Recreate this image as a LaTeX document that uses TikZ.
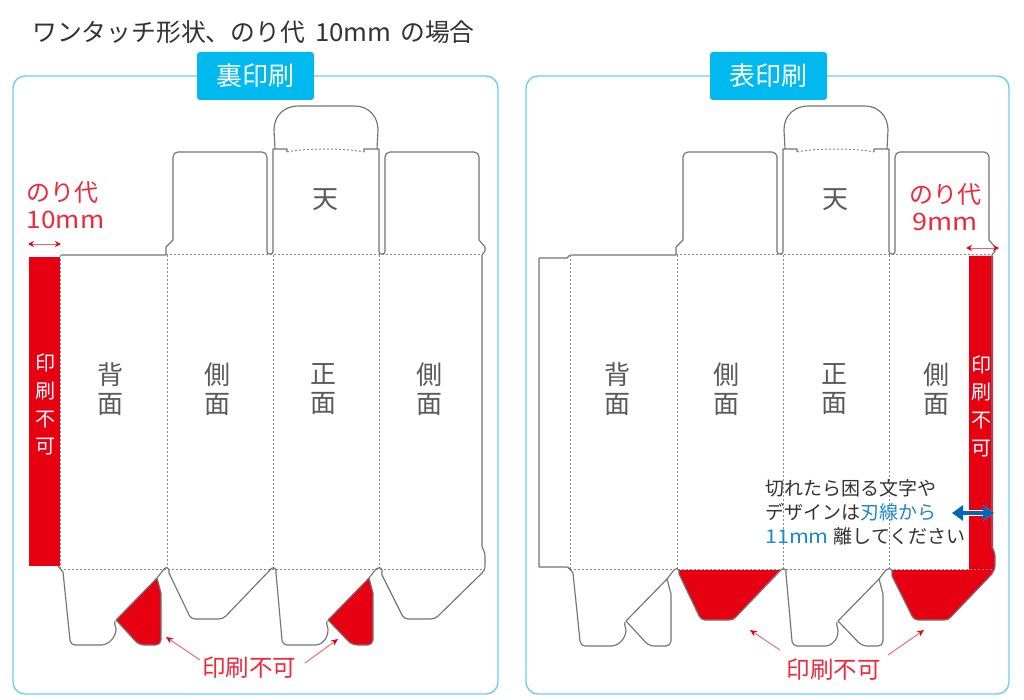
\documentclass[tikz,border=0pt]{standalone}
\usepackage{fontspec}
\setmainfont{Noto Sans CJK JP}
\usetikzlibrary{arrows.meta}
\definecolor{brand}{HTML}{00B9EF}
\definecolor{framec}{HTML}{6DCFF6}
\definecolor{nored}{HTML}{E60012}
\definecolor{txtred}{HTML}{F0283C}
\definecolor{pinkl}{HTML}{F2606E}
\definecolor{cutc}{HTML}{747474}
\definecolor{foldc}{HTML}{8A8A8A}
\definecolor{panelt}{HTML}{5A5A5A}
\definecolor{bluet}{HTML}{1E88CC}
\definecolor{bluea}{HTML}{0068B7}
\definecolor{bodyt}{HTML}{333333}
\newcommand{\wide}[2]{{\addfontfeature{FakeStretch=#1}#2}}
\tikzset{
  frame/.style={draw=framec,line width=1.4pt,rounded corners=12pt,fill=white},
  badge/.style={fill=brand,rounded corners=3pt,minimum width=117pt,minimum height=48pt,inner sep=0pt,text=white,font=\fontsize{26}{26}\selectfont},
  cut/.style={draw=cutc,line width=1.15pt,line join=round},
  fold/.style={draw=foldc,line width=1pt,dash pattern=on 2pt off 2pt},
  redzone/.style={fill=nored,draw=none},
  panel/.style={text=panelt,align=center,inner sep=0pt,font=\fontsize{26}{29}\selectfont},
  nope/.style={text=white,align=center,inner sep=0pt,font=\fontsize{20}{27.7}\selectfont},
  redlab/.style={text=txtred,align=center,inner sep=0pt,font=\fontsize{24}{27}\selectfont},
  callout/.style={text=txtred,inner sep=0pt,font=\fontsize{23.5}{26}\selectfont},
  redarrow/.style={draw=pinkl,line width=.9pt,-{Stealth[length=7pt,width=6pt,color=nored]}},
  dimarrow/.style={draw=pinkl,line width=.9pt,{Stealth[length=6pt,width=6pt,color=nored]}-{Stealth[length=6pt,width=6pt,color=nored]}},
}
\newcommand{\dieupper}{%
  \draw[cut] (61,255) -- (166,255) -- (166,247) -- (173,240) [rounded corners=5pt] -- (173,152) -- (267,152) [rounded corners=2.5pt] -- (267,254) -- (273,254) [sharp corners] -- (273,149) -- (287,149) -- (287,152);
  \draw[cut] (364,152) -- (364,149) -- (379,149) [rounded corners=2.5pt] -- (379,254) -- (385,254) [rounded corners=5pt] -- (385,152) -- (479,152) [sharp corners] -- (479,240) -- (485,247) -- (485,251) -- (482,255) -- (482,546) .. controls (483,550) and (485,552) .. (485,556) -- (485,565) .. controls (485,569) and (484,571) .. (482,573);
  \draw[cut] (275,149) -- (274,130) .. controls (274,115) and (285,106) .. (298,106) -- (355,106) .. controls (368,106) and (378,116) .. (378,130) -- (377,149);
  \draw[fold] (287,152) .. controls (305,148) and (345,148) .. (364,152);
  \draw[fold] (60,255) -- (60,569);
  \draw[fold] (167,255) -- (167,569);
  \draw[fold] (273,255) -- (273,569);
  \draw[fold] (379,255) -- (379,569);
  \draw[fold] (60,569) -- (482,569);
  \draw[fold] (166,255) -- (482,255);
}
\newcommand{\flapx}{435}
\newcommand{\dielower}{%
  \draw[cut] (58,566) -- (63,572) -- (70,640) [rounded corners=4pt] -- (71,645) -- (98,645) [sharp corners] .. controls (106,645) and (115,640) .. (116,630) .. controls (116,626) and (114,625) .. (115,621);
  \draw[cut] (157,578) -- (161,593) [rounded corners=5pt] -- (161,645) -- (139,645) [sharp corners] -- (116,620);
  \draw[cut] (116,620) -- (157,578) -- (164,569) .. controls (165,567) and (168,567) .. (169,570) -- (169,573) [rounded corners=4pt] -- (191,619) -- (223,619) [sharp corners] -- (270,570) .. controls (272,567) and (275,567) .. (276,570) -- (276,573) -- (282,640) [rounded corners=4pt] -- (283,645) -- (312,645) [sharp corners] .. controls (320,645) and (328,640) .. (328,630) .. controls (328,626) and (326,625) .. (327,621);
  \draw[cut] (369,578) -- (373,593) [rounded corners=5pt] -- (373,645) -- (352,645) [sharp corners] -- (328,620);
  \draw[cut] (328,620) -- (369,578) -- (376,569) .. controls (378,567) and (381,567) .. (382,570) -- (382,575) [rounded corners=4pt] -- (404,619) -- (\flapx,619) [sharp corners] -- (482,573);
}
\begin{document}
\begin{tikzpicture}[x=1pt,y=-1pt]
\useasboundingbox (0,0) rectangle (1024,700);
\fill[white] (0,0) rectangle (1024,700);
\node[anchor=west,inner sep=0pt,text=bodyt,font=\fontsize{24.8}{26}\selectfont] (title) at (32,32) {ワンタッチ形状、のり代\hspace{10pt}\wide{1.04}{10mm}\hspace{9pt}の場合};

% frames and badges
\draw[frame] (13,76) rectangle (498,694);
\draw[frame] (526,76) rectangle (1009,694);
\node[badge] (bu) at (255.5,76) {裏印刷};
\node[badge] (bo) at (768.5,76) {表印刷};

% left die
\fill[redzone] (29,257) rectangle (60,566);
\fill[redzone] (116,620) -- (157,578) -- (161,593) [rounded corners=5pt] -- (161,645) -- (139,645) [sharp corners] -- cycle;
\fill[redzone] (328,620) -- (369,578) -- (373,593) [rounded corners=5pt] -- (373,645) -- (352,645) [sharp corners] -- cycle;
\dieupper
\dielower

% right die
\begin{scope}[xshift=510pt]
\fill[redzone] (459,256) -- (483,256) -- (483,548) -- (485,555) -- (485,567) -- (483,573) -- (438,620) [rounded corners=4pt] -- (404,620) [sharp corners] -- (382,576) -- (382,570) -- (459,570) -- cycle;
\fill[redzone] (169,570) -- (169,574) [rounded corners=4pt] -- (191,620) [sharp corners] -- (223,620) -- (270,570) -- cycle;
\dieupper
\draw[cut] (29,258) -- (57,258) -- (60,255);
\draw[cut] (29,258) -- (29,567) -- (57,567) -- (60,569);
\renewcommand{\flapx}{438}
\begin{scope}[yshift=-1pt]
\dielower
\end{scope}
\end{scope}

% panel labels, left
\node[panel] (l1) at (110,389.5) {背\\面};
\node[panel] (l2) at (217,389.5) {側\\面};
\node[panel] (l3) at (323,389.5) {正\\面};
\node[panel] (l4) at (429,389.5) {側\\面};
\node[panel] (lt) at (325,200) {天};
% panel labels, right
\node[panel] (r1) at (617,389.5) {背\\面};
\node[panel] (r2) at (726,389.5) {側\\面};
\node[panel] (r3) at (834,389.5) {正\\面};
\node[panel] (r4) at (936,389.5) {側\\面};
\node[panel] (rt) at (835,200) {天};

% no-print stacks
\node[nope] (nl) at (45,404.6) {印\\刷\\不\\可};
\node[nope] (nr) at (981,406) {印\\刷\\不\\可};

% glue labels
\node[redlab] (gl) at (64,205) {のり代\hspace*{3pt}\\\hspace*{3pt}\wide{1.09}{10mm}};
\node[redlab] (gr) at (945,207) {のり代\\\wide{1.13}{9mm}};
\coordinate (dl1) at (28,244);
\coordinate (dl2) at (61,244);
\coordinate (dr1) at (966,248);
\coordinate (dr2) at (999,248);
\draw[dimarrow] (dl1) -- (dl2);
\draw[dimarrow] (dr1) -- (dr2);

% no-print callouts
\node[callout] (cl) at (249,668) {印刷不可};
\node[callout] (cr) at (833.5,670) {印刷不可};
\coordinate (a1s) at (200,660); \coordinate (a1e) at (166,637);
\coordinate (a2s) at (305,663); \coordinate (a2e) at (338,639);
\coordinate (a3s) at (780,650); \coordinate (a3e) at (750,630);
\coordinate (a4s) at (888,655); \coordinate (a4e) at (924,630);
\draw[redarrow] (a1s) -- (a1e);
\draw[redarrow] (a2s) -- (a2e);
\draw[redarrow] (a3s) -- (a3e);
\draw[redarrow] (a4s) -- (a4e);

% note
\node[anchor=north west,inner sep=0pt,align=left,text=bodyt,font=\fontsize{19}{24}\selectfont] (note) at (765,479) {切れたら困る文字や\\デザインは{\color{bluet}刃線から}\\{\color{bluet}\wide{1.13}{11mm}}\hspace{5pt}離してください};
\coordinate (b1) at (952,513);
\coordinate (b2) at (994,513);
\draw[white,line width=6pt,{Triangle[length=11pt,width=15pt]}-{Triangle[length=11pt,width=15pt]}] (b1) -- (b2);
\draw[bluea,line width=4.5pt,{Triangle[length=11pt,width=15pt]}-{Triangle[length=11pt,width=15pt]}] (b1) -- (b2);
\end{tikzpicture}
\end{document}
